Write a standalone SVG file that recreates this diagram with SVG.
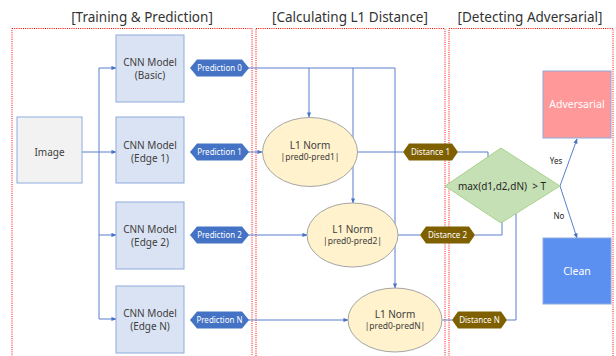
<svg xmlns="http://www.w3.org/2000/svg" width="616" height="356" viewBox="0 0 616 356">
<defs>
<marker id="ah" viewBox="0 0 6 6" refX="5.5" refY="3" markerWidth="5" markerHeight="5" orient="auto" markerUnits="userSpaceOnUse"><path d="M0,0.5 L6,3 L0,5.5 z" fill="#4472c4"/></marker>
<style>
.t{font-family:"Noto Sans","Liberation Sans",sans-serif;}
.title{font-size:13.5px;fill:#333333;text-anchor:middle;}
.zone{fill:none;stroke:#ff0000;stroke-width:1;stroke-dasharray:1 1.2;}
.cnn{fill:#dae3f3;stroke:#8faadc;stroke-width:1;}
.lbl{font-size:10px;fill:#404040;text-anchor:middle;}
.hexb{fill:#4472c4;}
.hexd{fill:#7f6000;}
.ht{font-size:8px;fill:#ffffff;text-anchor:middle;}
.ell{fill:#fff2cc;stroke:#a5a5a5;stroke-width:1;}
.c{fill:none;stroke:#5a7fcc;stroke-width:1;}
.wt{font-size:10.5px;fill:#ffffff;text-anchor:middle;}
.sm{font-size:8px;fill:#262626;text-anchor:middle;}
</style>
</defs>
<rect width="616" height="356" fill="#ffffff"/>
<g id="titles">
<text class="t title" x="142" y="22">[Training &amp; Prediction]</text>
<text class="t title" x="350" y="22">[Calculating L1 Distance]</text>
<text class="t title" x="530" y="22">[Detecting Adversarial]</text>
</g>
<g id="zones">
<rect class="zone" x="12" y="28.5" width="240" height="330"/>
<rect class="zone" x="256" y="28.5" width="189" height="330"/>
<rect class="zone" x="449" y="28.5" width="164" height="330"/>
</g>
<g id="connectors">
<path class="c" d="M82,152 H116" marker-end="url(#ah)"/>
<path class="c" d="M99,68 V319"/>
<path class="c" d="M99,68 H116" marker-end="url(#ah)"/>
<path class="c" d="M99,235 H116" marker-end="url(#ah)"/>
<path class="c" d="M99,319 H116" marker-end="url(#ah)"/>
<path class="c" d="M248,68 H395 V288" marker-end="url(#ah)"/>
<path class="c" d="M309,68 V117" marker-end="url(#ah)"/>
<path class="c" d="M353,68 V203" marker-end="url(#ah)"/>
<path class="c" d="M248,152 H262" marker-end="url(#ah)"/>
<path class="c" d="M248,235 H307" marker-end="url(#ah)"/>
<path class="c" d="M248,320 H348" marker-end="url(#ah)"/>
<path class="c" d="M357,152 H403"/>
<path class="c" d="M398,235 H420"/>
<path class="c" d="M442,320 H452"/>
<path class="c" d="M458,152 H488 V180" marker-end="url(#ah)"/>
<path class="c" d="M475,235 H502 V194" marker-end="url(#ah)"/>
<path class="c" d="M507,320 H516 V194" marker-end="url(#ah)"/>
<path class="c" d="M560,186 L577,139" marker-end="url(#ah)"/>
<path class="c" d="M560,186 L577,238" marker-end="url(#ah)"/>
<text class="t sm" x="556" y="164">Yes</text>
<text class="t sm" x="559" y="219">No</text>
</g>
<g id="image">
<rect x="17" y="117" width="65" height="66" fill="#f2f2f2" stroke="#8faadc"/>
<text class="t lbl" x="49.5" y="155.5">Image</text>
</g>
<g id="cnn-basic">
<rect class="cnn" x="116" y="35" width="68" height="67"/>
<text class="t lbl" x="150" y="66">CNN Model</text>
<text class="t lbl" x="150" y="79">(Basic)</text>
</g>
<g id="cnn-edge1">
<rect class="cnn" x="116" y="117" width="68" height="66"/>
<text class="t lbl" x="150" y="149">CNN Model</text>
<text class="t lbl" x="150" y="162">(Edge 1)</text>
</g>
<g id="cnn-edge2">
<rect class="cnn" x="116" y="202" width="68" height="67"/>
<text class="t lbl" x="150" y="233">CNN Model</text>
<text class="t lbl" x="150" y="246">(Edge 2)</text>
</g>
<g id="cnn-edgeN">
<rect class="cnn" x="116" y="286" width="68" height="67"/>
<text class="t lbl" x="150" y="317">CNN Model</text>
<text class="t lbl" x="150" y="330">(Edge N)</text>
</g>
<g id="pred0">
<polygon class="hexb" points="190,68 197,59.5 242,59.5 249,68 242,76.5 197,76.5"/>
<text class="t ht" x="219.5" y="71">Prediction 0</text>
</g>
<g id="pred1">
<polygon class="hexb" points="190,152 197,143.5 242,143.5 249,152 242,160.5 197,160.5"/>
<text class="t ht" x="219.5" y="155">Prediction 1</text>
</g>
<g id="pred2">
<polygon class="hexb" points="190,235 197,226.5 242,226.5 249,235 242,243.5 197,243.5"/>
<text class="t ht" x="219.5" y="238">Prediction 2</text>
</g>
<g id="predN">
<polygon class="hexb" points="190,320 197,311.5 242,311.5 249,320 242,328.5 197,328.5"/>
<text class="t ht" x="219.5" y="323">Prediction N</text>
</g>
<g id="l1-1">
<ellipse class="ell" cx="310" cy="152" rx="47.5" ry="34.5"/>
<text class="t lbl" x="310" y="149">L1 Norm</text>
<text class="t ht" x="310" y="160" style="fill:#404040;font-size:8.5px">|pred0-pred1|</text>
</g>
<g id="l1-2">
<ellipse class="ell" cx="352.5" cy="235" rx="45.5" ry="32"/>
<text class="t lbl" x="352.5" y="233">L1 Norm</text>
<text class="t ht" x="352.5" y="244" style="fill:#404040;font-size:8.5px">|pred0-pred2|</text>
</g>
<g id="l1-N">
<ellipse class="ell" cx="395" cy="320" rx="47" ry="32"/>
<text class="t lbl" x="395" y="318">L1 Norm</text>
<text class="t ht" x="395" y="329" style="fill:#404040;font-size:8.5px">|pred0-predN|</text>
</g>
<g id="dist1">
<polygon class="hexd" points="403,152 409,143.5 452,143.5 458,152 452,160.5 409,160.5"/>
<text class="t ht" x="430.5" y="155">Distance 1</text>
</g>
<g id="dist2">
<polygon class="hexd" points="420,235 426,226.5 469,226.5 475,235 469,243.5 426,243.5"/>
<text class="t ht" x="447.5" y="238">Distance 2</text>
</g>
<g id="distN">
<polygon class="hexd" points="452,320 458,311.5 501,311.5 507,320 501,328.5 458,328.5"/>
<text class="t ht" x="479.5" y="323">Distance N</text>
</g>
<g id="decision">
<polygon points="445,186 501,148 560,186 501,223" fill="#c5e0b4" stroke="#a9d18e"/>
<text class="t lbl" x="502" y="189.5" style="fill:#262626" xml:space="preserve">max(d1,d2,dN)  &gt; T</text>
</g>
<g id="adversarial">
<rect x="543" y="71" width="68" height="67" fill="#ff9999" stroke="#8faadc"/>
<text class="t wt" x="577" y="108">Adversarial</text>
</g>
<g id="clean">
<rect x="543" y="238" width="68" height="66" fill="#5b8ff0" stroke="#8faadc"/>
<text class="t wt" x="577" y="275">Clean</text>
</g>
</svg>
